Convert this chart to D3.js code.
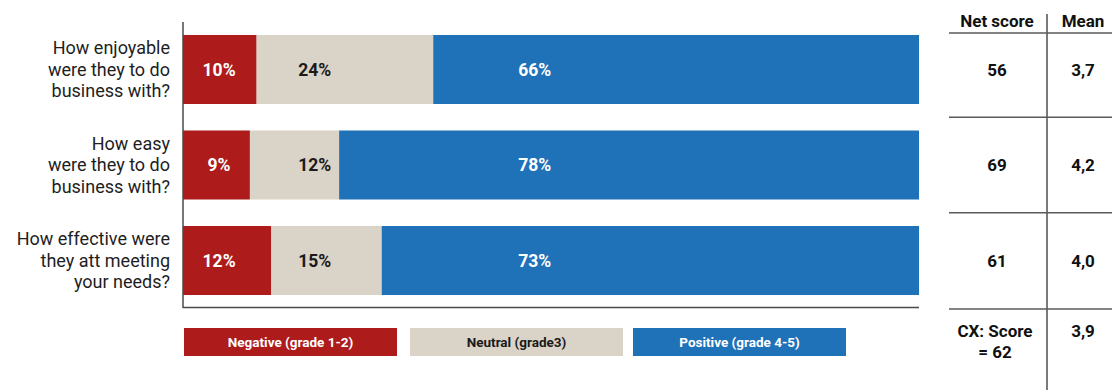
<!DOCTYPE html>
<html>
<head>
<meta charset="utf-8">
<script src="https://cdn.jsdelivr.net/npm/d3@7"></script>
<style>
  html, body { margin: 0; padding: 0; background: #fff; }
  svg { display: block; }
</style>
</head>
<body>
<svg id="chart" width="1112" height="390"></svg>
<script>
// Survey questions (one line of text per entry)
const questions = [
  ["How enjoyable", "were they to do", "business with?"],
  ["How easy", "were they to do", "business with?"],
  ["How effective were", "they att meeting", "your needs?"]
];
const seriesNames = ["Negative (grade 1-2)", "Neutral (grade3)", "Positive (grade 4-5)"];
const negative = [10, 9, 12];
const neutral = [24, 12, 15];
const positive = [66, 78, 73];
const netScore = ["56", "69", "61"];
const meanScore = ["3,7", "4,2", "4,0"];
const tableHeaders = ["Net score", "Mean"];
const totalLabel = ["CX: Score", "= 62"];
const totalMean = "3,9";

const colors = ["#ad1b1b", "#dad3c7", "#1f71b8"];
const labelColors = ["#ffffff", "#1a1a1a", "#ffffff"];
const font = "Roboto, 'DejaVu Sans', sans-serif";

const svg = d3.select("#chart");
const left = 183, right = 919;

const rows = questions.map((q, i) => ({ i, neg: negative[i], neu: neutral[i], pos: positive[i] }));
const keys = ["neg", "neu", "pos"];
const series = d3.stack().keys(keys).offset(d3.stackOffsetExpand)(rows);

const x = d3.scaleLinear().domain([0, 1]).range([left, right]);
const y = d3.scaleBand().domain(d3.range(questions.length)).range([22, 308])
  .paddingInner(0.2775).paddingOuter(0.136);

// stacked bars (shares of each row)
const g = svg.append("g");
series.forEach((s, k) => {
  g.selectAll(null).data(s).enter().append("rect")
    .attr("x", d => x(d[0]))
    .attr("y", (d, i) => y(i))
    .attr("width", d => x(d[1]) - x(d[0]))
    .attr("height", y.bandwidth())
    .attr("fill", colors[k]);
});

// value labels sit in fixed columns along the bars
const labelCols = [0.049, 0.179, 0.478];
const vals = [negative, neutral, positive];
vals.forEach((arr, k) => {
  g.selectAll(null).data(arr).enter().append("text")
    .attr("x", x(labelCols[k]))
    .attr("y", (d, i) => y(i) + y.bandwidth() / 2)
    .attr("dy", "0.36em")
    .attr("text-anchor", "middle")
    .attr("font-family", font)
    .attr("font-weight", "bold")
    .attr("font-size", 17.5)
    .attr("fill", labelColors[k])
    .text(d => d + "%");
});

// axis lines
svg.append("line").attr("x1", left).attr("x2", left).attr("y1", 22).attr("y2", 308)
  .attr("stroke", "#4a4a4a").attr("stroke-width", 1.5);
svg.append("line").attr("x1", left).attr("x2", right).attr("y1", 307.5).attr("y2", 307.5)
  .attr("stroke", "#4a4a4a").attr("stroke-width", 1.5);

// question labels
questions.forEach((lines, i) => {
  const cy = y(i) + y.bandwidth() / 2;
  const t = svg.append("text")
    .attr("text-anchor", "end")
    .attr("font-family", font)
    .attr("font-size", 18)
    .attr("fill", "#1e1e1e");
  lines.forEach((ln, j) => {
    t.append("tspan").attr("x", 170).attr("y", cy + (j - 1) * 21.5).attr("dy", "0.36em").text(ln);
  });
});

// legend
const legX = [184, 410, 633], legW = 213, legY = 328, legH = 28;
seriesNames.forEach((name, k) => {
  svg.append("rect").attr("x", legX[k]).attr("y", legY).attr("width", legW).attr("height", legH)
    .attr("fill", colors[k]);
  svg.append("text").attr("x", legX[k] + legW / 2).attr("y", legY + legH / 2).attr("dy", "0.36em")
    .attr("text-anchor", "middle")
    .attr("font-family", font)
    .attr("font-weight", "bold").attr("font-size", 13.5)
    .attr("fill", labelColors[k]).text(name);
});

// score table
const colNet = 997, colMean = 1083, divX = 1047, tblL = 949, tblR = 1112;
const tsize = 17;
svg.append("line").attr("x1", divX).attr("x2", divX).attr("y1", 14).attr("y2", 390)
  .attr("stroke", "#222").attr("stroke-width", 1.2);
const rowLines = [33];
for (let i = 0; i < questions.length; i++) {
  rowLines.push(i < questions.length - 1 ? (y(i) + y.bandwidth() + y(i + 1)) / 2 : 309);
}
rowLines.forEach(v => {
  svg.append("line").attr("x1", tblL).attr("x2", tblR).attr("y1", v).attr("y2", v)
    .attr("stroke", "#5a5a5a").attr("stroke-width", 1.5);
});
function cell(cx, cy, txt) {
  svg.append("text").attr("x", cx).attr("y", cy).attr("dy", "0.36em").attr("text-anchor", "middle")
    .attr("font-family", font).attr("font-weight", "bold").attr("font-size", tsize)
    .attr("fill", "#111").text(txt);
}
cell(colNet, 21, tableHeaders[0]);
cell(colMean, 21, tableHeaders[1]);
questions.forEach((q, i) => {
  const cy = y(i) + y.bandwidth() / 2;
  cell(colNet, cy, netScore[i]);
  cell(colMean, cy, meanScore[i]);
});
totalLabel.forEach((ln, j) => cell(995, 331 + j * 21, ln));
cell(colMean, 331, totalMean);
</script>
</body>
</html>
